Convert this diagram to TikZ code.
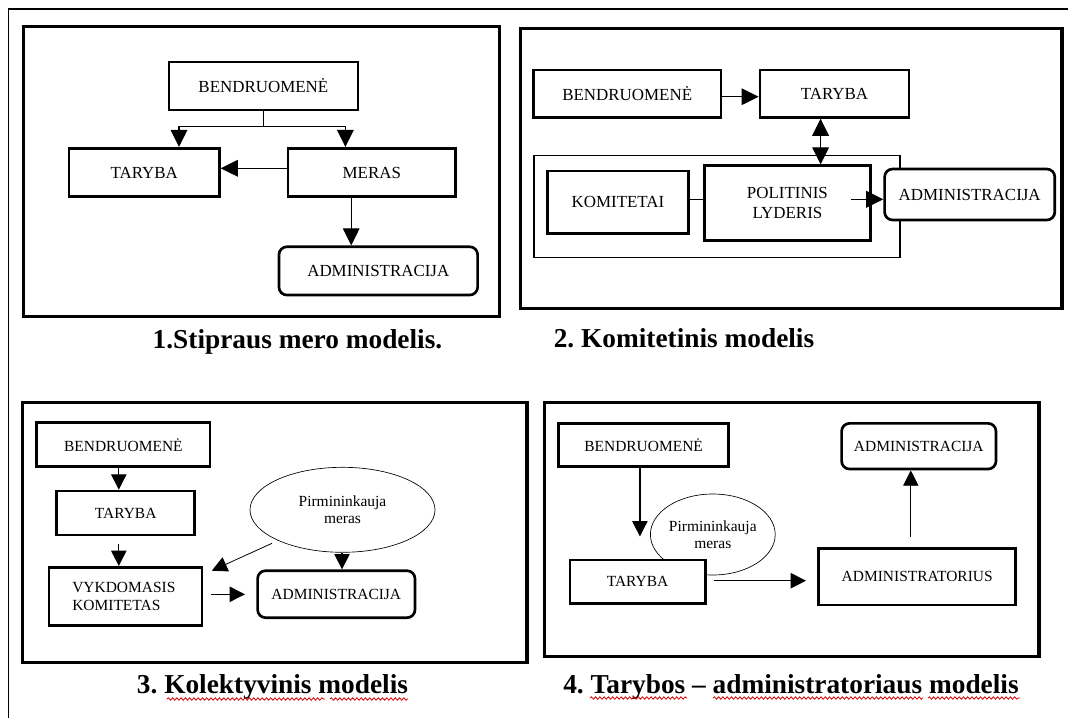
\documentclass[tikz,border=0pt]{standalone}
\usepackage{fontspec}
\setmainfont{Liberation Serif}
\usetikzlibrary{arrows.meta,shapes.geometric,decorations.pathmorphing}
\frenchspacing
\begin{document}
\begin{tikzpicture}[x=0.75pt,y=-0.75pt,
  wh/.style 2 args={minimum width=#1*0.75pt,minimum height=#2*0.75pt},
  box/.style={draw,line width=2pt,fill=white,inner sep=0pt,align=center},
  rbox/.style={box,rounded corners=6pt},
  big/.style={font=\fontsize{12.7}{15}\selectfont},
  small/.style={font=\fontsize{11.6}{13}\selectfont},
  panel/.style={draw,line width=2.4pt},
  tip/.tip={Triangle[length=12.8pt,width=12.5pt]},
  stip/.tip={Triangle[length=11.5pt,width=11.5pt]},
  conn/.style={line width=0.9pt,-tip},
  sconn/.style={line width=0.9pt,-stip},
  link/.style={line width=0.9pt},
  oval/.style={draw,ellipse,line width=0.5pt,inner sep=0pt,fill=white,align=center},
  caption/.style={anchor=base,font=\bfseries\fontsize{20.5}{24}\selectfont},
  spell/.style={draw=red!85!black,line width=0.6pt,decorate,
    decoration={snake,amplitude=0.9pt,segment length=3.2pt}}
]
% page and outer frame
\fill[white] (0,0) rectangle (1068,718);
\useasboundingbox (0,0) rectangle (1068,718);
\draw[line width=1pt] (8.3,718) -- (8.3,9) -- (1068,9);

% ---------- 1. Strong mayor model ----------
\draw[panel] (23.4,26.7) rectangle (499.3,316.7);
\node[box,big,wh={189}{48}] (b1) at (263.4,85.9) {BENDRUOMENĖ};
\node[box,big,wh={150.5}{48.4}] (t1) at (144.2,172.5) {TARYBA};
\node[box,big,wh={167.7}{48.4}] (m1) at (371.8,172.5) {MERAS};
\node[rbox,big,wh={198.7}{48.3}] (a1) at (378.3,270.9) {ADMINISTRACIJA};
\coordinate (j1) at (263.4,126.7);
\coordinate (j1l) at (179,126.7);
\coordinate (j1r) at (345.4,126.7);
\draw[link] (b1.south) -- (j1);
\draw[conn] (j1) -- (j1l) -- (j1l |- t1.north);
\draw[conn] (j1) -- (j1r) -- (j1r |- m1.north);
\draw[conn] (m1.west |- 0,168.3) -- (t1.east |- 0,168.3);
\draw[conn] (m1.south -| 351.2,0) -- (a1.north -| 351.2,0);
\node[caption] (c1) at (297.5,348) {1.Stipraus mero modelis.};

% ---------- 2. Committee model ----------
\draw[panel] (520.5,28.3) rectangle (1062,308.3);
\node[draw,line width=0.9pt,inner sep=0pt,wh={366}{101.6}] (g2) at (717,206.5) {};
\node[box,big,wh={187.7}{47.3}] (b2) at (627.2,93.7) {BENDRUOMENĖ};
\node[box,big,wh={149}{47.3}] (t2) at (834.5,93.7) {TARYBA};
\node[box,big,wh={141.5}{62.3}] (k2) at (618,202.2) {KOMITETAI};
\node[box,big,wh={165.7}{75}] (p2) at (787.4,203.2) {POLITINIS\\LYDERIS};
\node[rbox,big,wh={170.2}{51}] (a2) at (969.7,194.5) {ADMINISTRACIJA};
\draw[conn] (b2.east |- 0,96.7) -- (t2.west |- 0,96.7);
\draw[link,tip-tip] (t2.south -| 820.6,0) -- (p2.north -| 820.6,0);
\draw[link] (k2.east |- 0,199.3) -- (p2.west |- 0,199.3);
\coordinate (p2o) at (851.4,199.3);
\draw[conn] (p2o) -- (a2.west |- p2o);
\node[caption] (c2) at (684,347) {2. Komitetinis modelis};

% ---------- 3. Collective model ----------
\draw[panel] (22.7,402.7) rectangle (526.9,662.7);
\node[box,small,wh={173.2}{44}] (b3) at (123.4,444.7) {BENDRUOMENĖ};
\node[box,small,wh={137.8}{44}] (t3) at (125.7,513) {TARYBA};
\node[box,small,minimum height=58.4*0.75pt,inner xsep=23.4*0.75pt,
      text width=106.4*0.75pt,align=left] (v3) at (125.5,596.5) {VYKDOMASIS\\KOMITETAS};
\node[rbox,small,wh={157.4}{47}] (a3) at (336.3,594.2) {ADMINISTRACIJA};
\node[oval,small,wh={185}{85}] (e3) at (342.5,509.8) {Pirmininkauja\\meras};
\draw[sconn] (b3.south -| 118.8,0) -- (t3.north -| 118.8,0);
\draw[sconn,shorten <=6pt] (t3.south -| 118.8,0) -- (v3.north -| 118.8,0);
\coordinate (e3o) at (272,543.3);
\coordinate (v3i) at (211.8,570.7);
\draw[sconn,line width=0.6pt] (e3o) -- (v3i);
\draw[sconn] (e3.south -| 342,0) -- (a3.north -| 342,0);
\draw[sconn,shorten <=6pt,shorten >=8.5pt] (v3.east |- 0,594.3) -- (a3.west |- 0,594.3);
\node[caption] (c3) at (272.5,693) {3. Kolektyvinis modelis};
\draw[spell] (167,699) -- (325,699);
\draw[spell] (330,699) -- (408,699);

% ---------- 4. Council - administrator model ----------
\draw[panel] (544.5,402.3) rectangle (1039,656.7);
\node[box,small,wh={170.3}{43.4}] (b4) at (643.6,445) {BENDRUOMENĖ};
\node[oval,small,wh={124.8}{81}] (e4) at (712.8,534.5) {Pirmininkauja\\meras};
\node[box,small,wh={135.2}{43.3}] (t4) at (637.6,581.7) {TARYBA};
\node[box,small,wh={196.8}{56.7}] (s4) at (917.2,576.7) {ADMINISTRATORIUS};
\node[rbox,small,wh={154.4}{45.7}] (a4) at (918.8,446.2) {ADMINISTRACIJA};
\draw[sconn,shorten >=16.7pt] (b4.south -| 639.9,0) -- (t4.north -| 639.9,0);
\draw[sconn,shorten <=5.3pt,shorten >=8.6pt] (t4.east |- 0,580.7) -- (s4.west |- 0,580.7);
\draw[sconn,line width=0.7pt,shorten <=7.5pt] (s4.north -| 910.8,0) -- (a4.south -| 910.8,0);
\node[caption] (c4) at (791,693) {4. Tarybos – administratoriaus modelis};
\draw[spell] (590,698) -- (687,698);
\draw[spell] (713,698) -- (923,698);
\draw[spell] (928,698) -- (1020,698);
\end{tikzpicture}
\end{document}
